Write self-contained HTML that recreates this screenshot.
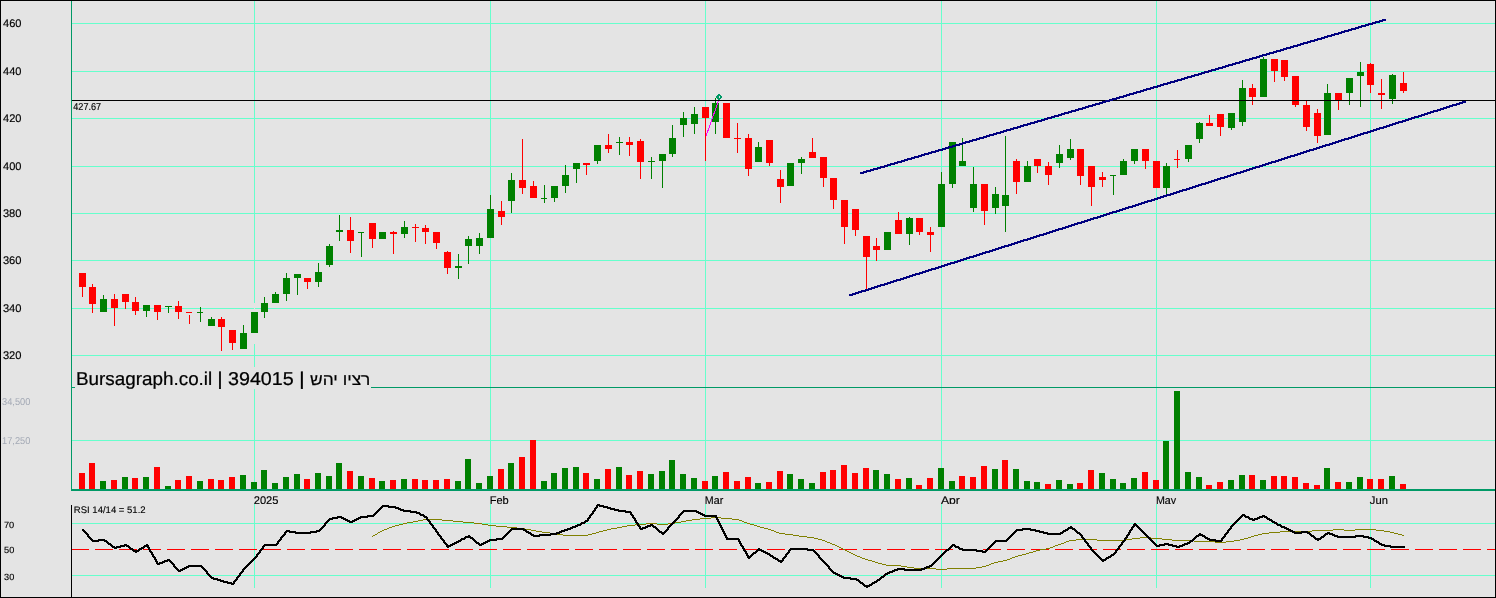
<!DOCTYPE html>
<html><head><meta charset="utf-8"><title>Bursagraph</title>
<style>
html,body{margin:0;padding:0;background:#e4e4e4;overflow:hidden}
svg{display:block;position:absolute;left:0;top:0}
text{font-family:"Liberation Sans",Arial,sans-serif;white-space:pre}
</style></head><body>
<svg width="1496" height="598" viewBox="0 0 1496 598" shape-rendering="crispEdges">
<rect x="0" y="0" width="1496" height="598" fill="#e4e4e4"/>
<path fill="#66ffcc" d="M72 23h1423v1h-1423zM72 71h1423v1h-1423zM72 118h1423v1h-1423zM72 166h1423v1h-1423zM72 213h1423v1h-1423zM72 260h1423v1h-1423zM72 308h1423v1h-1423zM72 355h1423v1h-1423zM254 1h1v488h-1zM254 504h1v84h-1zM490 1h1v488h-1zM490 504h1v84h-1zM705 1h1v488h-1zM705 504h1v84h-1zM941 1h1v488h-1zM941 504h1v84h-1zM1156 1h1v488h-1zM1156 504h1v84h-1zM1370 1h1v488h-1zM1370 504h1v84h-1zM72 440h1423v1h-1423z"/>
<path fill="#009966" d="M72 387h1423v1h-1423z"/>
<path fill="#66ffcc" d="M72 523h1423v1h-1423zM72 575h1423v1h-1423z"/>
<path fill="#ff0000" d="M72 549h17v1h-17zM95 549h18v1h-18zM119 549h18v1h-18zM143 549h18v1h-18zM167 549h18v1h-18zM191 549h18v1h-18zM215 549h18v1h-18zM239 549h18v1h-18zM263 549h18v1h-18zM287 549h18v1h-18zM311 549h18v1h-18zM335 549h18v1h-18zM359 549h18v1h-18zM383 549h18v1h-18zM407 549h18v1h-18zM431 549h18v1h-18zM455 549h18v1h-18zM479 549h18v1h-18zM503 549h18v1h-18zM527 549h18v1h-18zM551 549h18v1h-18zM575 549h18v1h-18zM599 549h18v1h-18zM623 549h18v1h-18zM647 549h18v1h-18zM671 549h18v1h-18zM695 549h18v1h-18zM719 549h18v1h-18zM743 549h18v1h-18zM767 549h18v1h-18zM791 549h18v1h-18zM815 549h18v1h-18zM839 549h18v1h-18zM863 549h18v1h-18zM887 549h18v1h-18zM911 549h18v1h-18zM935 549h18v1h-18zM959 549h18v1h-18zM983 549h18v1h-18zM1007 549h18v1h-18zM1031 549h18v1h-18zM1055 549h18v1h-18zM1079 549h18v1h-18zM1103 549h18v1h-18zM1127 549h18v1h-18zM1151 549h18v1h-18zM1175 549h18v1h-18zM1199 549h18v1h-18zM1223 549h18v1h-18zM1247 549h18v1h-18zM1271 549h18v1h-18zM1295 549h18v1h-18zM1319 549h18v1h-18zM1343 549h18v1h-18zM1367 549h18v1h-18zM1391 549h18v1h-18zM1415 549h18v1h-18zM1439 549h18v1h-18zM1463 549h18v1h-18zM1487 549h8v1h-8z"/>
<path fill="#009966" d="M71 1h1v490h-1z"/>
<path fill="#000" d="M71 505h1v92h-1z"/>
<path fill="#e4e4e4" d="M75 367h296v22h-296z"/>
<path fill="#ff0000" d="M82 287h1v10h-1zM79 273h7v14h-7zM92 284h1v3h-1zM92 304h1v9h-1zM89 287h7v17h-7z"/>
<path fill="#008000" d="M103 295h1v4h-1zM100 299h7v13h-7z"/>
<path fill="#ff0000" d="M114 294h1v5h-1zM114 308h1v18h-1zM111 299h7v9h-7zM125 302h1v7h-1zM122 294h7v8h-7zM135 297h1v5h-1zM135 311h1v4h-1zM132 302h7v9h-7z"/>
<path fill="#008000" d="M146 311h1v6h-1zM143 305h7v6h-7z"/>
<path fill="#ff0000" d="M157 312h1v8h-1zM154 305h7v7h-7z"/>
<path fill="#008000" d="M168 307h1v6h-1zM165 306h7v1h-7z"/>
<path fill="#ff0000" d="M178 301h1v5h-1zM178 312h1v7h-1zM175 306h7v6h-7zM189 315h1v9h-1zM186 312h6v1h-6z"/>
<path fill="#008000" d="M200 307h1v5h-1zM200 313h1v9h-1zM197 312h6v1h-6zM211 317h1v2h-1zM208 319h7v7h-7z"/>
<path fill="#ff0000" d="M221 317h1v2h-1zM221 327h1v24h-1zM218 319h7v8h-7zM232 343h1v7h-1zM229 330h7v13h-7z"/>
<path fill="#008000" d="M243 325h1v8h-1zM240 333h7v16h-7z"/>
<path fill="#e4e4e4" d="M254 303h1v41h-1z"/>
<path fill="#008000" d="M251 312h7v21h-7zM264 297h1v6h-1zM264 312h1v6h-1zM261 303h7v9h-7zM275 292h1v2h-1zM272 294h7v9h-7zM286 273h1v5h-1zM286 294h1v7h-1zM283 278h7v16h-7zM297 278h1v17h-1zM294 274h7v4h-7z"/>
<path fill="#ff0000" d="M307 282h1v7h-1zM304 278h7v4h-7z"/>
<path fill="#008000" d="M318 263h1v9h-1zM318 282h1v5h-1zM315 272h7v10h-7zM329 244h1v2h-1zM329 265h1v2h-1zM326 246h7v19h-7zM339 215h1v15h-1zM339 232h1v9h-1zM336 230h7v2h-7z"/>
<path fill="#ff0000" d="M350 217h1v13h-1zM350 241h1v12h-1zM347 230h7v11h-7z"/>
<path fill="#008000" d="M361 233h1v24h-1zM358 232h6v1h-6z"/>
<path fill="#ff0000" d="M372 239h1v9h-1zM369 223h7v16h-7z"/>
<path fill="#008000" d="M379 232h7v7h-7z"/>
<path fill="#ff0000" d="M393 231h1v1h-1zM393 234h1v20h-1zM390 232h7v2h-7z"/>
<path fill="#008000" d="M404 221h1v6h-1zM404 234h1v4h-1zM401 227h7v7h-7z"/>
<path fill="#ff0000" d="M415 224h1v3h-1zM415 228h1v14h-1zM412 227h7v1h-7zM425 225h1v3h-1zM425 232h1v12h-1zM422 228h7v4h-7zM436 243h1v6h-1zM433 232h7v11h-7zM447 251h1v1h-1zM447 268h1v6h-1zM444 252h7v16h-7z"/>
<path fill="#008000" d="M458 254h1v12h-1zM458 268h1v11h-1zM455 266h7v2h-7zM468 236h1v3h-1zM468 246h1v18h-1zM465 239h7v7h-7zM479 233h1v5h-1zM479 246h1v8h-1zM476 238h7v8h-7zM490 195h1v14h-1zM487 209h7v29h-7z"/>
<path fill="#ff0000" d="M501 201h1v10h-1zM501 217h1v8h-1zM498 211h7v6h-7z"/>
<path fill="#008000" d="M511 173h1v7h-1zM511 201h1v12h-1zM508 180h7v21h-7z"/>
<path fill="#ff0000" d="M522 139h1v41h-1zM522 188h1v6h-1zM519 180h7v8h-7zM533 181h1v5h-1zM530 186h7v12h-7z"/>
<path fill="#008000" d="M544 185h1v13h-1zM544 199h1v4h-1zM541 198h6v1h-6zM554 198h1v4h-1zM551 186h7v12h-7zM565 165h1v10h-1zM565 186h1v7h-1zM562 175h7v11h-7zM576 169h1v14h-1zM573 163h7v6h-7z"/>
<path fill="#ff0000" d="M586 165h1v10h-1zM583 163h7v2h-7z"/>
<path fill="#008000" d="M597 161h1v3h-1zM594 145h7v16h-7z"/>
<path fill="#ff0000" d="M608 134h1v11h-1zM608 149h1v4h-1zM605 145h7v4h-7z"/>
<path fill="#008000" d="M619 137h1v5h-1zM619 143h1v12h-1zM616 142h7v1h-7z"/>
<path fill="#ff0000" d="M629 137h1v5h-1zM629 145h1v11h-1zM626 142h7v3h-7zM640 139h1v2h-1zM640 162h1v17h-1zM637 141h7v21h-7z"/>
<path fill="#008000" d="M651 157h1v4h-1zM651 162h1v17h-1zM648 161h7v1h-7zM662 161h1v27h-1zM659 154h7v7h-7zM672 125h1v13h-1zM672 154h1v3h-1zM669 138h7v16h-7zM683 112h1v6h-1zM683 125h1v12h-1zM680 118h7v7h-7zM694 107h1v7h-1zM694 124h1v10h-1zM691 114h7v10h-7z"/>
<path fill="#ff0000" d="M705 118h1v43h-1zM702 107h7v11h-7z"/>
<path fill="#008000" d="M715 98h1v5h-1zM715 122h1v12h-1zM712 103h7v19h-7z"/>
<path fill="#ff0000" d="M723 103h7v35h-7zM737 123h1v15h-1zM737 139h1v14h-1zM734 138h7v1h-7zM748 134h1v4h-1zM748 169h1v7h-1zM745 138h7v31h-7z"/>
<path fill="#008000" d="M758 142h1v5h-1zM755 147h7v15h-7z"/>
<path fill="#ff0000" d="M769 163h1v3h-1zM766 140h7v23h-7zM780 170h1v9h-1zM780 187h1v16h-1zM777 179h7v8h-7z"/>
<path fill="#008000" d="M787 163h7v23h-7zM801 157h1v2h-1zM801 163h1v11h-1zM798 159h7v4h-7z"/>
<path fill="#ff0000" d="M812 138h1v14h-1zM809 152h7v6h-7zM823 178h1v9h-1zM820 157h7v21h-7zM833 200h1v9h-1zM830 178h7v22h-7zM844 227h1v17h-1zM841 200h7v27h-7zM855 230h1v6h-1zM852 209h7v21h-7zM866 257h1v32h-1zM863 236h7v21h-7zM876 238h1v8h-1zM876 250h1v11h-1zM873 246h7v4h-7z"/>
<path fill="#008000" d="M884 232h7v18h-7z"/>
<path fill="#ff0000" d="M898 212h1v8h-1zM895 220h7v14h-7z"/>
<path fill="#008000" d="M909 217h1v1h-1zM909 234h1v11h-1zM906 218h7v16h-7z"/>
<path fill="#ff0000" d="M919 232h1v3h-1zM916 218h7v14h-7zM930 227h1v5h-1zM930 235h1v17h-1zM927 232h7v3h-7z"/>
<path fill="#008000" d="M941 172h1v12h-1zM938 184h7v43h-7zM952 184h1v4h-1zM949 142h7v42h-7zM962 138h1v23h-1zM959 161h7v5h-7zM973 167h1v17h-1zM973 208h1v4h-1zM970 184h7v24h-7z"/>
<path fill="#ff0000" d="M984 211h1v14h-1zM981 184h7v27h-7z"/>
<path fill="#008000" d="M995 187h1v7h-1zM995 208h1v6h-1zM992 194h7v14h-7zM1005 136h1v59h-1zM1005 206h1v26h-1zM1002 195h7v11h-7z"/>
<path fill="#ff0000" d="M1016 159h1v2h-1zM1016 182h1v12h-1zM1013 161h7v21h-7z"/>
<path fill="#008000" d="M1027 161h1v5h-1zM1024 166h7v16h-7z"/>
<path fill="#ff0000" d="M1037 166h1v7h-1zM1034 159h7v7h-7zM1048 162h1v4h-1zM1048 175h1v10h-1zM1045 166h7v9h-7z"/>
<path fill="#008000" d="M1059 145h1v9h-1zM1059 163h1v5h-1zM1056 154h7v9h-7zM1070 139h1v10h-1zM1070 158h1v2h-1zM1067 149h7v9h-7z"/>
<path fill="#ff0000" d="M1080 176h1v9h-1zM1077 149h7v27h-7zM1091 187h1v19h-1zM1088 166h7v21h-7zM1102 172h1v5h-1zM1102 180h1v7h-1zM1099 177h7v3h-7z"/>
<path fill="#008000" d="M1113 176h1v19h-1zM1110 175h6v1h-6zM1123 159h1v2h-1zM1120 161h7v14h-7zM1134 161h1v3h-1zM1131 149h7v12h-7z"/>
<path fill="#ff0000" d="M1145 161h1v8h-1zM1142 149h7v12h-7zM1153 161h7v27h-7z"/>
<path fill="#008000" d="M1166 163h1v3h-1zM1166 188h1v6h-1zM1163 166h7v22h-7z"/>
<path fill="#ff0000" d="M1177 150h1v9h-1zM1177 160h1v8h-1zM1174 159h6v1h-6z"/>
<path fill="#008000" d="M1188 159h1v3h-1zM1185 145h7v14h-7zM1199 122h1v1h-1zM1199 139h1v4h-1zM1196 123h7v16h-7z"/>
<path fill="#ff0000" d="M1209 115h1v8h-1zM1206 123h7v3h-7zM1220 127h1v9h-1zM1217 114h7v13h-7z"/>
<path fill="#008000" d="M1231 128h1v2h-1zM1228 113h7v15h-7zM1242 80h1v8h-1zM1242 122h1v4h-1zM1239 88h7v34h-7z"/>
<path fill="#ff0000" d="M1252 84h1v4h-1zM1252 97h1v8h-1zM1249 88h7v9h-7z"/>
<path fill="#008000" d="M1263 57h1v2h-1zM1260 59h7v38h-7z"/>
<path fill="#ff0000" d="M1274 71h1v11h-1zM1271 59h7v12h-7zM1284 77h1v4h-1zM1281 60h7v17h-7zM1295 105h1v2h-1zM1292 76h7v29h-7zM1306 101h1v4h-1zM1306 127h1v4h-1zM1303 105h7v22h-7zM1317 109h1v4h-1zM1317 136h1v7h-1zM1314 113h7v23h-7z"/>
<path fill="#008000" d="M1327 84h1v9h-1zM1324 93h7v42h-7z"/>
<path fill="#ff0000" d="M1338 100h1v10h-1zM1335 93h7v7h-7z"/>
<path fill="#008000" d="M1349 93h1v12h-1zM1346 78h7v15h-7zM1360 62h1v10h-1zM1360 76h1v31h-1zM1357 72h7v4h-7z"/>
<path fill="#ff0000" d="M1370 63h1v1h-1zM1370 85h1v8h-1zM1367 64h7v21h-7zM1381 79h1v14h-1zM1381 95h1v14h-1zM1378 93h7v2h-7z"/>
<path fill="#008000" d="M1392 74h1v1h-1zM1392 99h1v5h-1zM1389 75h7v24h-7z"/>
<path fill="#ff0000" d="M1403 72h1v11h-1zM1403 91h1v2h-1zM1400 83h7v8h-7zM79 473h6v16h-6zM89 463h6v26h-6z"/>
<path fill="#008000" d="M100 481h6v8h-6z"/>
<path fill="#ff0000" d="M111 480h6v9h-6z"/>
<path fill="#008000" d="M122 477h6v12h-6z"/>
<path fill="#ff0000" d="M132 478h6v11h-6z"/>
<path fill="#008000" d="M143 477h6v12h-6z"/>
<path fill="#ff0000" d="M154 467h6v22h-6z"/>
<path fill="#008000" d="M165 486h6v3h-6z"/>
<path fill="#ff0000" d="M175 480h6v9h-6zM186 476h6v13h-6z"/>
<path fill="#008000" d="M197 481h6v8h-6z"/>
<path fill="#ff0000" d="M208 479h6v10h-6zM218 480h6v9h-6zM229 477h6v12h-6z"/>
<path fill="#008000" d="M240 475h6v14h-6zM251 482h6v7h-6zM261 470h6v19h-6zM272 483h6v6h-6zM283 477h6v12h-6zM294 474h6v15h-6z"/>
<path fill="#ff0000" d="M304 479h6v10h-6z"/>
<path fill="#008000" d="M315 473h6v16h-6zM326 476h6v13h-6zM336 463h6v26h-6z"/>
<path fill="#ff0000" d="M347 471h6v18h-6z"/>
<path fill="#008000" d="M358 476h6v13h-6z"/>
<path fill="#ff0000" d="M369 478h6v11h-6z"/>
<path fill="#008000" d="M379 481h6v8h-6z"/>
<path fill="#ff0000" d="M390 480h6v9h-6z"/>
<path fill="#008000" d="M401 479h6v10h-6z"/>
<path fill="#ff0000" d="M412 479h6v10h-6zM422 480h6v9h-6zM433 480h6v9h-6zM444 479h6v10h-6z"/>
<path fill="#008000" d="M455 481h6v8h-6zM465 459h6v30h-6zM476 483h6v6h-6zM487 476h6v13h-6z"/>
<path fill="#ff0000" d="M498 469h6v20h-6z"/>
<path fill="#008000" d="M508 463h6v26h-6z"/>
<path fill="#ff0000" d="M519 457h6v32h-6zM530 440h6v49h-6z"/>
<path fill="#008000" d="M541 481h6v8h-6zM551 473h6v16h-6zM562 468h6v21h-6zM573 467h6v22h-6z"/>
<path fill="#ff0000" d="M583 473h6v16h-6z"/>
<path fill="#008000" d="M594 479h6v10h-6z"/>
<path fill="#ff0000" d="M605 469h6v20h-6z"/>
<path fill="#008000" d="M616 467h6v22h-6z"/>
<path fill="#ff0000" d="M626 475h6v14h-6zM637 471h6v18h-6z"/>
<path fill="#008000" d="M648 474h6v15h-6zM659 471h6v18h-6zM669 460h6v29h-6zM680 474h6v15h-6zM691 478h6v11h-6z"/>
<path fill="#ff0000" d="M702 481h6v8h-6z"/>
<path fill="#008000" d="M712 476h6v13h-6z"/>
<path fill="#ff0000" d="M723 472h6v17h-6zM734 481h6v8h-6zM745 477h6v12h-6z"/>
<path fill="#008000" d="M755 483h6v6h-6z"/>
<path fill="#ff0000" d="M766 482h6v7h-6zM777 471h6v18h-6z"/>
<path fill="#008000" d="M787 474h6v15h-6zM798 479h6v10h-6zM809 483h6v6h-6z"/>
<path fill="#ff0000" d="M820 472h6v17h-6zM830 470h6v19h-6zM841 465h6v24h-6zM852 473h6v16h-6zM863 468h6v21h-6z"/>
<path fill="#008000" d="M873 470h6v19h-6zM884 474h6v15h-6z"/>
<path fill="#ff0000" d="M895 479h6v10h-6z"/>
<path fill="#008000" d="M906 478h6v11h-6z"/>
<path fill="#ff0000" d="M916 485h6v4h-6zM927 478h6v11h-6z"/>
<path fill="#008000" d="M938 468h6v21h-6zM949 481h6v8h-6z"/>
<path fill="#ff0000" d="M959 476h6v13h-6zM970 477h6v12h-6zM981 466h6v23h-6z"/>
<path fill="#008000" d="M992 469h6v20h-6z"/>
<path fill="#ff0000" d="M1002 460h6v29h-6z"/>
<path fill="#008000" d="M1013 469h6v20h-6zM1024 481h6v8h-6zM1034 482h6v7h-6z"/>
<path fill="#ff0000" d="M1045 484h6v5h-6z"/>
<path fill="#008000" d="M1056 480h6v9h-6zM1067 484h6v5h-6z"/>
<path fill="#ff0000" d="M1077 483h6v6h-6zM1088 470h6v19h-6z"/>
<path fill="#008000" d="M1099 473h6v16h-6zM1110 479h6v10h-6zM1120 483h6v6h-6zM1131 478h6v11h-6z"/>
<path fill="#ff0000" d="M1142 472h6v17h-6zM1153 480h6v9h-6z"/>
<path fill="#008000" d="M1163 441h6v48h-6zM1174 391h6v98h-6zM1185 472h6v17h-6zM1196 477h6v12h-6z"/>
<path fill="#ff0000" d="M1206 485h6v4h-6zM1217 482h6v7h-6z"/>
<path fill="#008000" d="M1228 480h6v9h-6zM1239 475h6v14h-6z"/>
<path fill="#ff0000" d="M1249 475h6v14h-6z"/>
<path fill="#008000" d="M1260 480h6v9h-6z"/>
<path fill="#ff0000" d="M1271 476h6v13h-6zM1281 476h6v13h-6zM1292 477h6v12h-6zM1303 483h6v6h-6zM1314 485h6v4h-6z"/>
<path fill="#008000" d="M1324 468h6v21h-6z"/>
<path fill="#ff0000" d="M1335 482h6v7h-6z"/>
<path fill="#008000" d="M1346 482h6v7h-6zM1357 477h6v12h-6z"/>
<path fill="#ff0000" d="M1367 479h6v10h-6zM1378 479h6v10h-6z"/>
<path fill="#008000" d="M1389 476h6v13h-6z"/>
<path fill="#ff0000" d="M1400 484h6v5h-6z"/>
<path fill="#009966" d="M71 489h1424v2h-1424z"/>
<line x1="705.9" y1="136.5" x2="718.55" y2="100.5" stroke="#ff00ff" stroke-width="1"/>
<path fill="#000" d="M72 100h1423v1h-1423z"/>
<path fill="#000080" d="M860 172h3v2h-3zM863 171h1v3h-1zM864 171h2v2h-2zM866 170h1v3h-1zM867 170h3v2h-3zM870 169h1v3h-1zM871 169h2v2h-2zM873 168h1v3h-1zM874 168h3v2h-3zM877 167h1v3h-1zM878 167h2v2h-2zM880 166h1v3h-1zM881 166h3v2h-3zM884 165h1v3h-1zM885 165h2v2h-2zM887 164h1v3h-1zM888 164h2v2h-2zM890 163h1v3h-1zM891 163h3v2h-3zM894 162h1v3h-1zM895 162h2v2h-2zM897 161h1v3h-1zM898 161h3v2h-3zM901 160h1v3h-1zM902 160h2v2h-2zM904 159h1v3h-1zM905 159h2v2h-2zM907 158h1v3h-1zM908 158h3v2h-3zM911 157h1v3h-1zM912 157h2v2h-2zM914 156h1v3h-1zM915 156h3v2h-3zM918 155h1v3h-1zM919 155h2v2h-2zM921 154h1v3h-1zM922 154h2v2h-2zM924 153h1v3h-1zM925 153h3v2h-3zM928 152h1v3h-1zM929 152h2v2h-2zM931 151h1v3h-1zM932 151h3v2h-3zM935 150h1v3h-1zM936 150h2v2h-2zM938 149h1v3h-1zM939 149h3v2h-3zM942 148h1v3h-1zM943 148h2v2h-2zM945 147h1v3h-1zM946 147h2v2h-2zM948 146h1v3h-1zM949 146h3v2h-3zM952 145h1v3h-1zM953 145h2v2h-2zM955 144h1v3h-1zM956 144h3v2h-3zM959 143h1v3h-1zM960 143h2v2h-2zM962 142h1v3h-1zM963 142h2v2h-2zM965 141h1v3h-1zM966 141h3v2h-3zM969 140h1v3h-1zM970 140h2v2h-2zM972 139h1v3h-1zM973 139h3v2h-3zM976 138h1v3h-1zM977 138h2v2h-2zM979 137h1v3h-1zM980 137h3v2h-3zM983 136h1v3h-1zM984 136h2v2h-2zM986 135h1v3h-1zM987 135h2v2h-2zM989 134h1v3h-1zM990 134h3v2h-3zM993 133h1v3h-1zM994 133h2v2h-2zM996 132h1v3h-1zM997 132h3v2h-3zM1000 131h1v3h-1zM1001 131h2v2h-2zM1003 130h1v3h-1zM1004 130h2v2h-2zM1006 129h1v3h-1zM1007 129h3v2h-3zM1010 128h1v3h-1zM1011 128h2v2h-2zM1013 127h1v3h-1zM1014 127h3v2h-3zM1017 126h1v3h-1zM1018 126h2v2h-2zM1020 125h1v3h-1zM1021 125h2v2h-2zM1023 124h1v3h-1zM1024 124h3v2h-3zM1027 123h1v3h-1zM1028 123h2v2h-2zM1030 122h1v3h-1zM1031 122h3v2h-3zM1034 121h1v3h-1zM1035 121h2v2h-2zM1037 120h1v3h-1zM1038 120h3v2h-3zM1041 119h1v3h-1zM1042 119h2v2h-2zM1044 118h1v3h-1zM1045 118h2v2h-2zM1047 117h1v3h-1zM1048 117h3v2h-3zM1051 116h1v3h-1zM1052 116h2v2h-2zM1054 115h1v3h-1zM1055 115h3v2h-3zM1058 114h1v3h-1zM1059 114h2v2h-2zM1061 113h1v3h-1zM1062 113h2v2h-2zM1064 112h1v3h-1zM1065 112h3v2h-3zM1068 111h1v3h-1zM1069 111h2v2h-2zM1071 110h1v3h-1zM1072 110h3v2h-3zM1075 109h1v3h-1zM1076 109h2v2h-2zM1078 108h1v3h-1zM1079 108h3v2h-3zM1082 107h1v3h-1zM1083 107h2v2h-2zM1085 106h1v3h-1zM1086 106h2v2h-2zM1088 105h1v3h-1zM1089 105h3v2h-3zM1092 104h1v3h-1zM1093 104h2v2h-2zM1095 103h1v3h-1zM1096 103h3v2h-3zM1099 102h1v3h-1zM1100 102h2v2h-2zM1102 101h1v3h-1zM1103 101h2v2h-2zM1105 100h1v3h-1zM1106 100h3v2h-3zM1109 99h1v3h-1zM1110 99h2v2h-2zM1112 98h1v3h-1zM1113 98h3v2h-3zM1116 97h1v3h-1zM1117 97h2v2h-2zM1119 96h1v3h-1zM1120 96h3v2h-3zM1123 95h1v3h-1zM1124 95h2v2h-2zM1126 94h1v3h-1zM1127 94h2v2h-2zM1129 93h1v3h-1zM1130 93h3v2h-3zM1133 92h1v3h-1zM1134 92h2v2h-2zM1136 91h1v3h-1zM1137 91h3v2h-3zM1140 90h1v3h-1zM1141 90h2v2h-2zM1143 89h1v3h-1zM1144 89h2v2h-2zM1146 88h1v3h-1zM1147 88h3v2h-3zM1150 87h1v3h-1zM1151 87h2v2h-2zM1153 86h1v3h-1zM1154 86h3v2h-3zM1157 85h1v3h-1zM1158 85h2v2h-2zM1160 84h1v3h-1zM1161 84h2v2h-2zM1163 83h1v3h-1zM1164 83h3v2h-3zM1167 82h1v3h-1zM1168 82h2v2h-2zM1170 81h1v3h-1zM1171 81h3v2h-3zM1174 80h1v3h-1zM1175 80h2v2h-2zM1177 79h1v3h-1zM1178 79h3v2h-3zM1181 78h1v3h-1zM1182 78h2v2h-2zM1184 77h1v3h-1zM1185 77h2v2h-2zM1187 76h1v3h-1zM1188 76h3v2h-3zM1191 75h1v3h-1zM1192 75h2v2h-2zM1194 74h1v3h-1zM1195 74h3v2h-3zM1198 73h1v3h-1zM1199 73h2v2h-2zM1201 72h1v3h-1zM1202 72h2v2h-2zM1204 71h1v3h-1zM1205 71h3v2h-3zM1208 70h1v3h-1zM1209 70h2v2h-2zM1211 69h1v3h-1zM1212 69h3v2h-3zM1215 68h1v3h-1zM1216 68h2v2h-2zM1218 67h1v3h-1zM1219 67h3v2h-3zM1222 66h1v3h-1zM1223 66h2v2h-2zM1225 65h1v3h-1zM1226 65h2v2h-2zM1228 64h1v3h-1zM1229 64h3v2h-3zM1232 63h1v3h-1zM1233 63h2v2h-2zM1235 62h1v3h-1zM1236 62h3v2h-3zM1239 61h1v3h-1zM1240 61h2v2h-2zM1242 60h1v3h-1zM1243 60h2v2h-2zM1245 59h1v3h-1zM1246 59h3v2h-3zM1249 58h1v3h-1zM1250 58h2v2h-2zM1252 57h1v3h-1zM1253 57h3v2h-3zM1256 56h1v3h-1zM1257 56h2v2h-2zM1259 55h1v3h-1zM1260 55h2v2h-2zM1262 54h1v3h-1zM1263 54h3v2h-3zM1266 53h1v3h-1zM1267 53h2v2h-2zM1269 52h1v3h-1zM1270 52h3v2h-3zM1273 51h1v3h-1zM1274 51h2v2h-2zM1276 50h1v3h-1zM1277 50h3v2h-3zM1280 49h1v3h-1zM1281 49h2v2h-2zM1283 48h1v3h-1zM1284 48h2v2h-2zM1286 47h1v3h-1zM1287 47h3v2h-3zM1290 46h1v3h-1zM1291 46h2v2h-2zM1293 45h1v3h-1zM1294 45h3v2h-3zM1297 44h1v3h-1zM1298 44h2v2h-2zM1300 43h1v3h-1zM1301 43h2v2h-2zM1303 42h1v3h-1zM1304 42h3v2h-3zM1307 41h1v3h-1zM1308 41h2v2h-2zM1310 40h1v3h-1zM1311 40h3v2h-3zM1314 39h1v3h-1zM1315 39h2v2h-2zM1317 38h1v3h-1zM1318 38h3v2h-3zM1321 37h1v3h-1zM1322 37h2v2h-2zM1324 36h1v3h-1zM1325 36h2v2h-2zM1327 35h1v3h-1zM1328 35h3v2h-3zM1331 34h1v3h-1zM1332 34h2v2h-2zM1334 33h1v3h-1zM1335 33h3v2h-3zM1338 32h1v3h-1zM1339 32h2v2h-2zM1341 31h1v3h-1zM1342 31h2v2h-2zM1344 30h1v3h-1zM1345 30h3v2h-3zM1348 29h1v3h-1zM1349 29h2v2h-2zM1351 28h1v3h-1zM1352 28h3v2h-3zM1355 27h1v3h-1zM1356 27h2v2h-2zM1358 26h1v3h-1zM1359 26h2v2h-2zM1361 25h1v3h-1zM1362 25h3v2h-3zM1365 24h1v3h-1zM1366 24h2v2h-2zM1368 23h1v3h-1zM1369 23h3v2h-3zM1372 22h1v3h-1zM1373 22h2v2h-2zM1375 21h1v3h-1zM1376 21h3v2h-3zM1379 20h1v3h-1zM1380 20h2v2h-2zM1382 19h1v3h-1zM1383 19h3v2h-3zM849 294h3v2h-3zM852 293h1v3h-1zM853 293h2v2h-2zM855 292h1v3h-1zM856 292h2v2h-2zM858 291h1v3h-1zM859 291h2v2h-2zM861 290h1v3h-1zM862 290h3v2h-3zM865 289h1v3h-1zM866 289h2v2h-2zM868 288h1v3h-1zM869 288h2v2h-2zM871 287h1v3h-1zM872 287h2v2h-2zM874 286h1v3h-1zM875 286h2v2h-2zM877 285h1v3h-1zM878 285h2v2h-2zM880 284h1v3h-1zM881 284h3v2h-3zM884 283h1v3h-1zM885 283h2v2h-2zM887 282h1v3h-1zM888 282h2v2h-2zM890 281h1v3h-1zM891 281h2v2h-2zM893 280h1v3h-1zM894 280h2v2h-2zM896 279h1v3h-1zM897 279h3v2h-3zM900 278h1v3h-1zM901 278h2v2h-2zM903 277h1v3h-1zM904 277h2v2h-2zM906 276h1v3h-1zM907 276h2v2h-2zM909 275h1v3h-1zM910 275h2v2h-2zM912 274h1v3h-1zM913 274h2v2h-2zM915 273h1v3h-1zM916 273h3v2h-3zM919 272h1v3h-1zM920 272h2v2h-2zM922 271h1v3h-1zM923 271h2v2h-2zM925 270h1v3h-1zM926 270h2v2h-2zM928 269h1v3h-1zM929 269h2v2h-2zM931 268h1v3h-1zM932 268h3v2h-3zM935 267h1v3h-1zM936 267h2v2h-2zM938 266h1v3h-1zM939 266h2v2h-2zM941 265h1v3h-1zM942 265h2v2h-2zM944 264h1v3h-1zM945 264h2v2h-2zM947 263h1v3h-1zM948 263h2v2h-2zM950 262h1v3h-1zM951 262h3v2h-3zM954 261h1v3h-1zM955 261h2v2h-2zM957 260h1v3h-1zM958 260h2v2h-2zM960 259h1v3h-1zM961 259h2v2h-2zM963 258h1v3h-1zM964 258h2v2h-2zM966 257h1v3h-1zM967 257h2v2h-2zM969 256h1v3h-1zM970 256h3v2h-3zM973 255h1v3h-1zM974 255h2v2h-2zM976 254h1v3h-1zM977 254h2v2h-2zM979 253h1v3h-1zM980 253h2v2h-2zM982 252h1v3h-1zM983 252h2v2h-2zM985 251h1v3h-1zM986 251h3v2h-3zM989 250h1v3h-1zM990 250h2v2h-2zM992 249h1v3h-1zM993 249h2v2h-2zM995 248h1v3h-1zM996 248h2v2h-2zM998 247h1v3h-1zM999 247h2v2h-2zM1001 246h1v3h-1zM1002 246h2v2h-2zM1004 245h1v3h-1zM1005 245h3v2h-3zM1008 244h1v3h-1zM1009 244h2v2h-2zM1011 243h1v3h-1zM1012 243h2v2h-2zM1014 242h1v3h-1zM1015 242h2v2h-2zM1017 241h1v3h-1zM1018 241h2v2h-2zM1020 240h1v3h-1zM1021 240h2v2h-2zM1023 239h1v3h-1zM1024 239h3v2h-3zM1027 238h1v3h-1zM1028 238h2v2h-2zM1030 237h1v3h-1zM1031 237h2v2h-2zM1033 236h1v3h-1zM1034 236h2v2h-2zM1036 235h1v3h-1zM1037 235h2v2h-2zM1039 234h1v3h-1zM1040 234h3v2h-3zM1043 233h1v3h-1zM1044 233h2v2h-2zM1046 232h1v3h-1zM1047 232h2v2h-2zM1049 231h1v3h-1zM1050 231h2v2h-2zM1052 230h1v3h-1zM1053 230h2v2h-2zM1055 229h1v3h-1zM1056 229h2v2h-2zM1058 228h1v3h-1zM1059 228h3v2h-3zM1062 227h1v3h-1zM1063 227h2v2h-2zM1065 226h1v3h-1zM1066 226h2v2h-2zM1068 225h1v3h-1zM1069 225h2v2h-2zM1071 224h1v3h-1zM1072 224h2v2h-2zM1074 223h1v3h-1zM1075 223h2v2h-2zM1077 222h1v3h-1zM1078 222h3v2h-3zM1081 221h1v3h-1zM1082 221h2v2h-2zM1084 220h1v3h-1zM1085 220h2v2h-2zM1087 219h1v3h-1zM1088 219h2v2h-2zM1090 218h1v3h-1zM1091 218h2v2h-2zM1093 217h1v3h-1zM1094 217h3v2h-3zM1097 216h1v3h-1zM1098 216h2v2h-2zM1100 215h1v3h-1zM1101 215h2v2h-2zM1103 214h1v3h-1zM1104 214h2v2h-2zM1106 213h1v3h-1zM1107 213h2v2h-2zM1109 212h1v3h-1zM1110 212h2v2h-2zM1112 211h1v3h-1zM1113 211h3v2h-3zM1116 210h1v3h-1zM1117 210h2v2h-2zM1119 209h1v3h-1zM1120 209h2v2h-2zM1122 208h1v3h-1zM1123 208h2v2h-2zM1125 207h1v3h-1zM1126 207h2v2h-2zM1128 206h1v3h-1zM1129 206h3v2h-3zM1132 205h1v3h-1zM1133 205h2v2h-2zM1135 204h1v3h-1zM1136 204h2v2h-2zM1138 203h1v3h-1zM1139 203h2v2h-2zM1141 202h1v3h-1zM1142 202h2v2h-2zM1144 201h1v3h-1zM1145 201h2v2h-2zM1147 200h1v3h-1zM1148 200h3v2h-3zM1151 199h1v3h-1zM1152 199h2v2h-2zM1154 198h1v3h-1zM1155 198h2v2h-2zM1157 197h1v3h-1zM1158 197h2v2h-2zM1160 196h1v3h-1zM1161 196h2v2h-2zM1163 195h1v3h-1zM1164 195h2v2h-2zM1166 194h1v3h-1zM1167 194h3v2h-3zM1170 193h1v3h-1zM1171 193h2v2h-2zM1173 192h1v3h-1zM1174 192h2v2h-2zM1176 191h1v3h-1zM1177 191h2v2h-2zM1179 190h1v3h-1zM1180 190h2v2h-2zM1182 189h1v3h-1zM1183 189h3v2h-3zM1186 188h1v3h-1zM1187 188h2v2h-2zM1189 187h1v3h-1zM1190 187h2v2h-2zM1192 186h1v3h-1zM1193 186h2v2h-2zM1195 185h1v3h-1zM1196 185h2v2h-2zM1198 184h1v3h-1zM1199 184h2v2h-2zM1201 183h1v3h-1zM1202 183h3v2h-3zM1205 182h1v3h-1zM1206 182h2v2h-2zM1208 181h1v3h-1zM1209 181h2v2h-2zM1211 180h1v3h-1zM1212 180h2v2h-2zM1214 179h1v3h-1zM1215 179h2v2h-2zM1217 178h1v3h-1zM1218 178h2v2h-2zM1220 177h1v3h-1zM1221 177h3v2h-3zM1224 176h1v3h-1zM1225 176h2v2h-2zM1227 175h1v3h-1zM1228 175h2v2h-2zM1230 174h1v3h-1zM1231 174h2v2h-2zM1233 173h1v3h-1zM1234 173h2v2h-2zM1236 172h1v3h-1zM1237 172h3v2h-3zM1240 171h1v3h-1zM1241 171h2v2h-2zM1243 170h1v3h-1zM1244 170h2v2h-2zM1246 169h1v3h-1zM1247 169h2v2h-2zM1249 168h1v3h-1zM1250 168h2v2h-2zM1252 167h1v3h-1zM1253 167h2v2h-2zM1255 166h1v3h-1zM1256 166h3v2h-3zM1259 165h1v3h-1zM1260 165h2v2h-2zM1262 164h1v3h-1zM1263 164h2v2h-2zM1265 163h1v3h-1zM1266 163h2v2h-2zM1268 162h1v3h-1zM1269 162h2v2h-2zM1271 161h1v3h-1zM1272 161h3v2h-3zM1275 160h1v3h-1zM1276 160h2v2h-2zM1278 159h1v3h-1zM1279 159h2v2h-2zM1281 158h1v3h-1zM1282 158h2v2h-2zM1284 157h1v3h-1zM1285 157h2v2h-2zM1287 156h1v3h-1zM1288 156h2v2h-2zM1290 155h1v3h-1zM1291 155h3v2h-3zM1294 154h1v3h-1zM1295 154h2v2h-2zM1297 153h1v3h-1zM1298 153h2v2h-2zM1300 152h1v3h-1zM1301 152h2v2h-2zM1303 151h1v3h-1zM1304 151h2v2h-2zM1306 150h1v3h-1zM1307 150h2v2h-2zM1309 149h1v3h-1zM1310 149h3v2h-3zM1313 148h1v3h-1zM1314 148h2v2h-2zM1316 147h1v3h-1zM1317 147h2v2h-2zM1319 146h1v3h-1zM1320 146h2v2h-2zM1322 145h1v3h-1zM1323 145h2v2h-2zM1325 144h1v3h-1zM1326 144h3v2h-3zM1329 143h1v3h-1zM1330 143h2v2h-2zM1332 142h1v3h-1zM1333 142h2v2h-2zM1335 141h1v3h-1zM1336 141h2v2h-2zM1338 140h1v3h-1zM1339 140h2v2h-2zM1341 139h1v3h-1zM1342 139h2v2h-2zM1344 138h1v3h-1zM1345 138h3v2h-3zM1348 137h1v3h-1zM1349 137h2v2h-2zM1351 136h1v3h-1zM1352 136h2v2h-2zM1354 135h1v3h-1zM1355 135h2v2h-2zM1357 134h1v3h-1zM1358 134h2v2h-2zM1360 133h1v3h-1zM1361 133h2v2h-2zM1363 132h1v3h-1zM1364 132h3v2h-3zM1367 131h1v3h-1zM1368 131h2v2h-2zM1370 130h1v3h-1zM1371 130h2v2h-2zM1373 129h1v3h-1zM1374 129h2v2h-2zM1376 128h1v3h-1zM1377 128h2v2h-2zM1379 127h1v3h-1zM1380 127h3v2h-3zM1383 126h1v3h-1zM1384 126h2v2h-2zM1386 125h1v3h-1zM1387 125h2v2h-2zM1389 124h1v3h-1zM1390 124h2v2h-2zM1392 123h1v3h-1zM1393 123h2v2h-2zM1395 122h1v3h-1zM1396 122h2v2h-2zM1398 121h1v3h-1zM1399 121h3v2h-3zM1402 120h1v3h-1zM1403 120h2v2h-2zM1405 119h1v3h-1zM1406 119h2v2h-2zM1408 118h1v3h-1zM1409 118h2v2h-2zM1411 117h1v3h-1zM1412 117h2v2h-2zM1414 116h1v3h-1zM1415 116h3v2h-3zM1418 115h1v3h-1zM1419 115h2v2h-2zM1421 114h1v3h-1zM1422 114h2v2h-2zM1424 113h1v3h-1zM1425 113h2v2h-2zM1427 112h1v3h-1zM1428 112h2v2h-2zM1430 111h1v3h-1zM1431 111h2v2h-2zM1433 110h1v3h-1zM1434 110h3v2h-3zM1437 109h1v3h-1zM1438 109h2v2h-2zM1440 108h1v3h-1zM1441 108h2v2h-2zM1443 107h1v3h-1zM1444 107h2v2h-2zM1446 106h1v3h-1zM1447 106h2v2h-2zM1449 105h1v3h-1zM1450 105h2v2h-2zM1452 104h1v3h-1zM1453 104h3v2h-3zM1456 103h1v3h-1zM1457 103h2v2h-2zM1459 102h1v3h-1zM1460 102h2v2h-2zM1462 101h1v3h-1zM1463 101h3v2h-3z"/>
<path fill="#009966" d="M718 94h2v1h-2zM717 95h4v1h-4zM716 96h3v1h-3zM720 96h2v1h-2zM716 97h3v1h-3zM720 97h2v1h-2zM717 98h4v1h-4zM718 99h2v1h-2z"/>
<path fill="#808000" d="M372 536h1v1h-1zM373 535h2v1h-2zM375 534h2v1h-2zM377 533h1v1h-1zM378 532h2v1h-2zM380 531h2v1h-2zM382 530h2v1h-2zM384 529h3v1h-3zM387 528h2v1h-2zM389 527h3v1h-3zM392 526h3v1h-3zM395 525h4v1h-4zM399 524h4v1h-4zM403 523h4v1h-4zM407 522h6v1h-6zM413 521h5v1h-5zM418 520h5v1h-5zM423 519h19v1h-19zM442 520h11v1h-11zM453 521h10v1h-10zM463 522h11v1h-11zM474 523h8v1h-8zM482 524h6v1h-6zM488 525h8v1h-8zM496 526h11v1h-11zM507 527h10v1h-10zM517 528h8v1h-8zM525 529h6v1h-6zM531 530h5v1h-5zM536 531h6v1h-6zM542 532h8v1h-8zM550 533h7v1h-7zM557 534h6v1h-6zM563 535h25v1h-25zM588 534h4v1h-4zM592 533h4v1h-4zM596 532h3v1h-3zM599 531h4v1h-4zM603 530h4v1h-4zM607 529h4v1h-4zM611 528h6v1h-6zM617 527h5v1h-5zM622 526h5v1h-5zM627 525h8v1h-8zM635 524h11v1h-11zM646 523h11v1h-11zM657 524h11v1h-11zM668 523h7v1h-7zM675 522h6v1h-6zM681 521h5v1h-5zM686 520h6v1h-6zM692 519h8v1h-8zM700 518h11v1h-11zM711 517h10v1h-10zM721 518h11v1h-11zM732 519h7v1h-7zM739 520h3v1h-3zM742 521h2v1h-2zM744 522h3v1h-3zM747 523h3v1h-3zM750 524h4v1h-4zM754 525h3v1h-3zM757 526h3v1h-3zM760 527h4v1h-4zM764 528h4v1h-4zM768 529h3v1h-3zM771 530h3v1h-3zM774 531h2v1h-2zM776 532h3v1h-3zM779 533h6v1h-6zM785 534h8v1h-8zM793 535h6v1h-6zM799 536h8v1h-8zM807 537h7v1h-7zM814 538h4v1h-4zM818 539h4v1h-4zM822 540h3v1h-3zM825 541h2v1h-2zM827 542h3v1h-3zM830 543h2v1h-2zM832 544h3v1h-3zM835 545h2v1h-2zM837 546h2v1h-2zM839 547h2v1h-2zM841 548h2v1h-2zM843 549h2v1h-2zM845 550h2v1h-2zM847 551h2v1h-2zM849 552h2v1h-2zM851 553h2v1h-2zM853 554h2v1h-2zM855 555h2v1h-2zM857 556h3v1h-3zM860 557h2v1h-2zM862 558h3v1h-3zM865 559h3v1h-3zM868 560h4v1h-4zM872 561h3v1h-3zM875 562h3v1h-3zM878 563h4v1h-4zM882 564h4v1h-4zM886 565h15v1h-15zM901 566h6v1h-6zM907 567h7v1h-7zM914 568h22v1h-22zM936 569h11v1h-11zM947 568h29v1h-29zM976 567h6v1h-6zM982 566h4v1h-4zM986 565h3v1h-3zM989 564h2v1h-2zM991 563h3v1h-3zM994 562h4v1h-4zM998 561h5v1h-5zM1003 560h4v1h-4zM1007 559h3v1h-3zM1010 558h2v1h-2zM1012 557h3v1h-3zM1015 556h3v1h-3zM1018 555h4v1h-4zM1022 554h4v1h-4zM1026 553h3v1h-3zM1029 552h4v1h-4zM1033 551h3v1h-3zM1036 550h4v1h-4zM1040 549h6v1h-6zM1046 548h4v1h-4zM1050 547h3v1h-3zM1053 546h2v1h-2zM1055 545h3v1h-3zM1058 544h3v1h-3zM1061 543h3v1h-3zM1064 542h2v1h-2zM1066 541h3v1h-3zM1069 540h7v1h-7zM1076 539h21v1h-21zM1097 540h29v1h-29zM1126 539h6v1h-6zM1132 538h8v1h-8zM1140 537h11v1h-11zM1151 538h11v1h-11zM1162 539h10v1h-10zM1172 540h22v1h-22zM1194 541h21v1h-21zM1215 542h11v1h-11zM1226 541h8v1h-8zM1234 540h6v1h-6zM1240 539h4v1h-4zM1244 538h4v1h-4zM1248 537h3v1h-3zM1251 536h3v1h-3zM1254 535h4v1h-4zM1258 534h4v1h-4zM1262 533h7v1h-7zM1269 532h11v1h-11zM1280 531h32v1h-32zM1312 530h21v1h-21zM1333 529h11v1h-11zM1344 530h11v1h-11zM1355 529h21v1h-21zM1376 530h8v1h-8zM1384 531h6v1h-6zM1390 532h4v1h-4zM1394 533h4v1h-4zM1398 534h4v1h-4zM1402 535h2v1h-2z"/>
<path fill="#000" d="M82 529h1v2h-1zM83 529h1v3h-1zM84 530h1v3h-1zM85 531h1v3h-1zM86 532h1v3h-1zM87 533h1v4h-1zM88 534h1v4h-1zM89 536h1v3h-1zM90 537h1v3h-1zM91 538h1v3h-1zM92 539h1v3h-1zM93 540h5v2h-5zM98 539h1v3h-1zM99 539h5v2h-5zM104 539h1v3h-1zM105 540h1v2h-1zM106 540h1v3h-1zM107 541h1v3h-1zM108 542h1v3h-1zM109 543h1v2h-1zM110 543h1v3h-1zM111 544h1v3h-1zM112 545h1v3h-1zM113 546h1v2h-1zM114 546h1v3h-1zM115 547h1v2h-1zM116 546h1v3h-1zM117 546h3v2h-3zM120 545h1v3h-1zM121 545h3v2h-3zM124 544h1v3h-1zM125 544h1v2h-1zM126 544h1v3h-1zM127 545h1v2h-1zM128 545h1v3h-1zM129 546h1v3h-1zM130 547h1v3h-1zM131 548h1v2h-1zM132 548h1v3h-1zM133 549h1v3h-1zM134 550h1v2h-1zM135 550h2v3h-2zM137 550h1v2h-1zM138 549h1v3h-1zM139 548h1v3h-1zM140 548h1v2h-1zM141 547h1v3h-1zM142 547h1v2h-1zM143 546h1v3h-1zM144 545h1v3h-1zM145 545h1v2h-1zM146 544h1v3h-1zM147 544h1v4h-1zM148 545h1v5h-1zM149 547h1v5h-1zM150 549h1v4h-1zM151 551h1v4h-1zM152 552h1v5h-1zM153 554h1v4h-1zM154 556h1v4h-1zM155 557h1v5h-1zM156 559h1v5h-1zM157 561h1v4h-1zM158 563h1v2h-1zM159 562h1v3h-1zM160 562h2v2h-2zM162 561h1v3h-1zM163 561h1v2h-1zM164 560h1v3h-1zM165 560h2v2h-2zM167 559h1v3h-1zM168 559h1v2h-1zM169 559h1v3h-1zM170 560h1v3h-1zM171 561h1v3h-1zM172 562h1v3h-1zM173 563h1v4h-1zM174 564h1v4h-1zM175 566h1v3h-1zM176 567h1v3h-1zM177 568h1v3h-1zM178 569h1v3h-1zM179 570h1v2h-1zM180 569h1v3h-1zM181 569h1v2h-1zM182 568h1v3h-1zM183 568h1v2h-1zM184 567h1v3h-1zM185 567h1v2h-1zM186 566h1v3h-1zM187 566h1v2h-1zM188 565h1v3h-1zM189 565h12v2h-12zM201 565h1v3h-1zM202 566h1v3h-1zM203 567h1v3h-1zM204 568h1v3h-1zM205 569h1v3h-1zM206 570h1v4h-1zM207 571h1v4h-1zM208 573h1v3h-1zM209 574h1v3h-1zM210 575h1v3h-1zM211 576h1v3h-1zM212 577h1v2h-1zM213 577h1v3h-1zM214 578h3v2h-3zM217 578h1v3h-1zM218 579h2v2h-2zM220 579h1v3h-1zM221 580h2v2h-2zM223 580h1v3h-1zM224 581h3v2h-3zM227 581h1v3h-1zM228 582h3v2h-3zM231 582h1v3h-1zM232 583h1v2h-1zM233 581h1v4h-1zM234 580h1v4h-1zM235 579h1v3h-1zM236 577h1v4h-1zM237 576h1v4h-1zM238 575h1v3h-1zM239 573h1v4h-1zM240 572h1v4h-1zM241 571h1v3h-1zM242 569h1v4h-1zM243 568h1v4h-1zM244 567h1v3h-1zM245 566h1v3h-1zM246 565h1v3h-1zM247 564h1v3h-1zM248 563h1v3h-1zM249 562h1v3h-1zM250 561h1v3h-1zM251 560h1v3h-1zM252 559h1v3h-1zM253 558h1v3h-1zM254 557h1v3h-1zM255 556h1v3h-1zM256 554h1v4h-1zM257 553h1v4h-1zM258 552h1v3h-1zM259 550h1v4h-1zM260 549h1v4h-1zM261 548h1v3h-1zM262 546h1v4h-1zM263 545h1v4h-1zM264 544h1v3h-1zM265 544h11v2h-11zM276 543h1v3h-1zM277 541h1v4h-1zM278 540h1v4h-1zM279 539h1v3h-1zM280 537h1v4h-1zM281 536h1v4h-1zM282 535h1v3h-1zM283 534h1v3h-1zM284 532h1v4h-1zM285 531h1v4h-1zM286 530h1v3h-1zM287 530h2v2h-2zM289 530h1v3h-1zM290 531h5v2h-5zM295 531h1v3h-1zM296 532h14v2h-14zM310 531h1v3h-1zM311 531h5v2h-5zM316 530h1v3h-1zM317 530h2v2h-2zM319 529h1v3h-1zM320 528h1v3h-1zM321 527h1v3h-1zM322 526h1v3h-1zM323 525h1v3h-1zM324 523h1v4h-1zM325 522h1v4h-1zM326 521h1v3h-1zM327 520h1v3h-1zM328 519h1v3h-1zM329 518h1v3h-1zM330 518h2v2h-2zM332 517h1v3h-1zM333 517h4v2h-4zM337 516h1v3h-1zM338 516h3v2h-3zM341 516h1v3h-1zM342 517h1v2h-1zM343 517h1v3h-1zM344 518h1v2h-1zM345 518h1v3h-1zM346 519h1v2h-1zM347 519h1v3h-1zM348 520h1v2h-1zM349 520h1v3h-1zM350 521h2v2h-2zM352 520h1v3h-1zM353 520h1v2h-1zM354 519h1v3h-1zM355 519h1v2h-1zM356 518h1v3h-1zM357 518h1v2h-1zM358 517h1v3h-1zM359 517h1v2h-1zM360 516h1v3h-1zM361 516h6v2h-6zM367 515h1v3h-1zM368 515h5v2h-5zM373 514h1v3h-1zM374 513h1v3h-1zM375 512h1v3h-1zM376 511h1v3h-1zM377 510h1v3h-1zM378 509h1v3h-1zM379 508h1v3h-1zM380 507h1v3h-1zM381 506h1v3h-1zM382 505h1v3h-1zM383 505h5v2h-5zM388 505h1v3h-1zM389 506h6v2h-6zM395 506h1v3h-1zM396 507h2v2h-2zM398 507h1v3h-1zM399 508h1v2h-1zM400 508h1v3h-1zM401 509h2v2h-2zM403 509h1v3h-1zM404 510h6v2h-6zM410 510h1v3h-1zM411 511h5v2h-5zM416 511h1v3h-1zM417 512h2v2h-2zM419 512h1v3h-1zM420 513h1v3h-1zM421 514h2v2h-2zM423 514h1v3h-1zM424 515h1v3h-1zM425 516h1v2h-1zM426 516h1v4h-1zM427 517h1v4h-1zM428 519h1v3h-1zM429 520h1v4h-1zM430 521h1v4h-1zM431 523h1v3h-1zM432 524h1v4h-1zM433 525h1v4h-1zM434 527h1v3h-1zM435 528h1v4h-1zM436 529h1v4h-1zM437 531h1v4h-1zM438 532h1v4h-1zM439 534h1v3h-1zM440 535h1v4h-1zM441 536h1v4h-1zM442 538h1v3h-1zM443 539h1v4h-1zM444 540h1v4h-1zM445 542h1v3h-1zM446 543h1v4h-1zM447 544h1v4h-1zM448 545h1v3h-1zM449 545h1v2h-1zM450 544h1v3h-1zM451 544h1v2h-1zM452 543h1v3h-1zM453 543h1v2h-1zM454 542h1v3h-1zM455 542h1v2h-1zM456 541h1v3h-1zM457 541h1v2h-1zM458 540h1v3h-1zM459 540h1v2h-1zM460 539h1v3h-1zM461 538h1v3h-1zM462 538h2v2h-2zM464 537h1v3h-1zM465 536h1v3h-1zM466 536h2v2h-2zM468 535h2v3h-2zM470 536h1v3h-1zM471 537h1v2h-1zM472 537h1v3h-1zM473 538h1v3h-1zM474 539h1v3h-1zM475 540h1v3h-1zM476 541h1v3h-1zM477 542h1v2h-1zM478 542h1v3h-1zM479 543h1v3h-1zM480 544h1v2h-1zM481 543h1v3h-1zM482 543h1v2h-1zM483 542h1v3h-1zM484 542h1v2h-1zM485 541h1v3h-1zM486 541h1v2h-1zM487 540h1v3h-1zM488 540h1v2h-1zM489 539h1v3h-1zM490 539h6v2h-6zM496 538h1v3h-1zM497 538h5v2h-5zM502 537h1v3h-1zM503 536h1v3h-1zM504 535h1v3h-1zM505 534h1v3h-1zM506 533h1v3h-1zM507 532h1v3h-1zM508 531h1v3h-1zM509 530h1v3h-1zM510 529h1v3h-1zM511 528h1v3h-1zM512 528h11v2h-11zM523 528h1v3h-1zM524 529h1v2h-1zM525 529h1v3h-1zM526 530h1v3h-1zM527 531h1v2h-1zM528 531h1v3h-1zM529 532h1v2h-1zM530 532h1v3h-1zM531 533h1v3h-1zM532 534h1v2h-1zM533 534h1v3h-1zM534 535h5v2h-5zM539 534h1v3h-1zM540 534h10v2h-10zM550 533h1v3h-1zM551 533h5v2h-5zM556 532h1v3h-1zM557 532h2v2h-2zM559 531h1v3h-1zM560 531h1v2h-1zM561 530h1v3h-1zM562 530h2v2h-2zM564 529h1v3h-1zM565 529h2v2h-2zM567 528h1v3h-1zM568 528h2v2h-2zM570 527h1v3h-1zM571 527h1v2h-1zM572 526h1v3h-1zM573 526h2v2h-2zM575 525h1v3h-1zM576 525h1v2h-1zM577 524h1v3h-1zM578 524h2v2h-2zM580 523h1v3h-1zM581 522h1v3h-1zM582 522h2v2h-2zM584 521h1v3h-1zM585 520h1v3h-1zM586 520h1v2h-1zM587 518h1v4h-1zM588 517h1v4h-1zM589 515h1v4h-1zM590 514h1v4h-1zM591 513h1v3h-1zM592 511h1v4h-1zM593 510h1v4h-1zM594 508h1v4h-1zM595 507h1v4h-1zM596 505h1v4h-1zM597 504h1v4h-1zM598 504h1v2h-1zM599 504h1v3h-1zM600 505h3v2h-3zM603 505h1v3h-1zM604 506h3v2h-3zM607 506h1v3h-1zM608 507h2v2h-2zM610 507h1v3h-1zM611 508h3v2h-3zM614 508h1v3h-1zM615 509h3v2h-3zM618 509h1v3h-1zM619 510h6v2h-6zM625 510h1v3h-1zM626 511h4v2h-4zM630 511h1v4h-1zM631 512h1v4h-1zM632 514h1v4h-1zM633 515h1v4h-1zM634 517h1v4h-1zM635 518h1v5h-1zM636 520h1v4h-1zM637 522h1v4h-1zM638 523h1v4h-1zM639 525h1v4h-1zM640 526h1v4h-1zM641 528h1v2h-1zM642 527h1v3h-1zM643 527h2v2h-2zM645 526h1v3h-1zM646 526h1v2h-1zM647 525h1v3h-1zM648 525h2v2h-2zM650 524h1v3h-1zM651 524h1v2h-1zM652 524h1v3h-1zM653 525h1v3h-1zM654 526h1v2h-1zM655 526h1v3h-1zM656 527h1v3h-1zM657 528h1v3h-1zM658 529h1v3h-1zM659 530h1v3h-1zM660 531h1v2h-1zM661 531h1v3h-1zM662 532h2v3h-2zM664 531h1v3h-1zM665 530h1v3h-1zM666 529h1v3h-1zM667 527h1v4h-1zM668 526h1v4h-1zM669 525h1v3h-1zM670 524h1v3h-1zM671 523h1v3h-1zM672 522h1v3h-1zM673 521h1v3h-1zM674 520h1v3h-1zM675 519h1v3h-1zM676 518h1v3h-1zM677 517h1v3h-1zM678 515h1v4h-1zM679 514h1v4h-1zM680 513h1v3h-1zM681 512h1v3h-1zM682 511h1v3h-1zM683 510h1v3h-1zM684 510h12v2h-12zM696 510h1v3h-1zM697 511h1v2h-1zM698 511h1v3h-1zM699 512h1v2h-1zM700 512h1v3h-1zM701 513h1v2h-1zM702 513h1v3h-1zM703 514h1v2h-1zM704 514h1v3h-1zM705 515h10v2h-10zM715 515h1v3h-1zM716 515h1v5h-1zM717 517h1v5h-1zM718 519h1v5h-1zM719 521h1v5h-1zM720 523h1v5h-1zM721 525h1v5h-1zM722 527h1v5h-1zM723 529h1v5h-1zM724 531h1v5h-1zM725 533h1v5h-1zM726 535h1v5h-1zM727 537h1v3h-1zM728 538h10v2h-10zM738 538h1v4h-1zM739 539h1v5h-1zM740 541h1v5h-1zM741 543h1v4h-1zM742 545h1v4h-1zM743 546h1v5h-1zM744 548h1v4h-1zM745 550h1v4h-1zM746 551h1v5h-1zM747 553h1v5h-1zM748 555h1v4h-1zM749 556h1v3h-1zM750 555h1v3h-1zM751 554h1v3h-1zM752 553h1v3h-1zM753 552h1v3h-1zM754 552h1v2h-1zM755 551h1v3h-1zM756 550h1v3h-1zM757 549h1v3h-1zM758 548h2v3h-2zM760 549h1v2h-1zM761 549h1v3h-1zM762 550h1v2h-1zM763 550h1v3h-1zM764 551h1v2h-1zM765 551h1v3h-1zM766 552h1v2h-1zM767 552h1v3h-1zM768 553h1v2h-1zM769 553h1v3h-1zM770 554h1v3h-1zM771 555h1v2h-1zM772 555h1v3h-1zM773 556h1v3h-1zM774 557h1v2h-1zM775 557h1v3h-1zM776 558h1v2h-1zM777 558h1v3h-1zM778 559h1v3h-1zM779 560h1v2h-1zM780 560h2v3h-2zM782 558h1v4h-1zM783 557h1v4h-1zM784 556h1v3h-1zM785 554h1v4h-1zM786 553h1v4h-1zM787 552h1v3h-1zM788 550h1v4h-1zM789 549h1v4h-1zM790 548h1v3h-1zM791 548h16v2h-16zM807 548h1v3h-1zM808 549h5v2h-5zM813 549h1v3h-1zM814 550h1v3h-1zM815 551h1v3h-1zM816 552h1v3h-1zM817 553h1v3h-1zM818 554h1v4h-1zM819 555h1v4h-1zM820 557h1v3h-1zM821 558h1v3h-1zM822 559h1v3h-1zM823 560h1v3h-1zM824 561h1v3h-1zM825 562h1v3h-1zM826 563h1v3h-1zM827 564h1v3h-1zM828 565h1v4h-1zM829 566h1v4h-1zM830 568h1v3h-1zM831 569h1v3h-1zM832 570h1v3h-1zM833 571h1v3h-1zM834 572h1v2h-1zM835 572h1v3h-1zM836 573h1v2h-1zM837 573h1v3h-1zM838 574h1v2h-1zM839 574h1v3h-1zM840 575h1v2h-1zM841 575h1v3h-1zM842 576h1v2h-1zM843 576h1v3h-1zM844 577h6v2h-6zM850 577h1v3h-1zM851 578h5v2h-5zM856 578h1v3h-1zM857 579h1v2h-1zM858 579h1v3h-1zM859 580h1v3h-1zM860 581h1v3h-1zM861 582h1v2h-1zM862 582h1v3h-1zM863 583h1v3h-1zM864 584h1v3h-1zM865 585h1v2h-1zM866 585h2v3h-2zM868 585h1v2h-1zM869 584h1v3h-1zM870 584h1v2h-1zM871 583h1v3h-1zM872 582h1v3h-1zM873 582h1v2h-1zM874 581h1v3h-1zM875 581h1v2h-1zM876 580h1v3h-1zM877 579h1v3h-1zM878 579h1v2h-1zM879 578h1v3h-1zM880 577h1v3h-1zM881 576h1v3h-1zM882 576h1v2h-1zM883 575h1v3h-1zM884 574h1v3h-1zM885 573h1v3h-1zM886 573h1v2h-1zM887 572h1v3h-1zM888 572h1v2h-1zM889 571h1v3h-1zM890 571h2v2h-2zM892 570h1v3h-1zM893 570h1v2h-1zM894 569h1v3h-1zM895 569h2v2h-2zM897 568h1v3h-1zM898 568h6v2h-6zM904 568h1v3h-1zM905 569h16v2h-16zM921 568h1v3h-1zM922 568h2v2h-2zM924 567h1v3h-1zM925 567h1v2h-1zM926 566h1v3h-1zM927 566h2v2h-2zM929 565h1v3h-1zM930 565h1v2h-1zM931 564h1v3h-1zM932 563h1v3h-1zM933 562h1v3h-1zM934 561h1v3h-1zM935 560h1v3h-1zM936 559h1v3h-1zM937 558h1v3h-1zM938 557h1v3h-1zM939 556h1v3h-1zM940 555h1v3h-1zM941 554h1v3h-1zM942 553h1v3h-1zM943 552h1v3h-1zM944 551h1v3h-1zM945 550h1v3h-1zM946 549h1v3h-1zM947 549h1v2h-1zM948 548h1v3h-1zM949 547h1v3h-1zM950 546h1v3h-1zM951 545h1v3h-1zM952 544h1v3h-1zM953 544h1v2h-1zM954 544h1v3h-1zM955 545h1v3h-1zM956 546h2v2h-2zM958 546h1v3h-1zM959 547h1v3h-1zM960 548h2v2h-2zM962 548h1v3h-1zM963 549h13v2h-13zM976 549h1v3h-1zM977 550h5v2h-5zM982 550h1v3h-1zM983 551h2v2h-2zM985 550h1v3h-1zM986 549h1v3h-1zM987 548h1v3h-1zM988 547h1v3h-1zM989 546h1v3h-1zM990 545h1v3h-1zM991 544h1v3h-1zM992 543h1v3h-1zM993 542h1v3h-1zM994 541h1v3h-1zM995 540h1v3h-1zM996 540h10v2h-10zM1006 539h1v3h-1zM1007 538h1v3h-1zM1008 537h1v3h-1zM1009 536h1v3h-1zM1010 535h1v3h-1zM1011 534h1v3h-1zM1012 533h1v3h-1zM1013 532h1v3h-1zM1014 531h1v3h-1zM1015 530h1v3h-1zM1016 529h1v3h-1zM1017 529h5v2h-5zM1022 528h1v3h-1zM1023 528h7v2h-7zM1030 528h1v3h-1zM1031 529h4v2h-4zM1035 529h1v3h-1zM1036 530h3v2h-3zM1039 530h1v3h-1zM1040 531h3v2h-3zM1043 531h1v3h-1zM1044 532h3v2h-3zM1047 532h1v3h-1zM1048 533h12v2h-12zM1060 532h1v3h-1zM1061 532h1v2h-1zM1062 531h1v3h-1zM1063 530h1v3h-1zM1064 530h1v2h-1zM1065 529h1v3h-1zM1066 529h1v2h-1zM1067 528h1v3h-1zM1068 527h1v3h-1zM1069 527h1v2h-1zM1070 526h2v3h-2zM1072 527h1v3h-1zM1073 528h1v2h-1zM1074 528h1v3h-1zM1075 529h1v3h-1zM1076 530h1v3h-1zM1077 531h1v3h-1zM1078 532h1v2h-1zM1079 532h1v3h-1zM1080 533h1v3h-1zM1081 534h1v4h-1zM1082 535h1v4h-1zM1083 537h1v3h-1zM1084 538h1v4h-1zM1085 539h1v4h-1zM1086 541h1v3h-1zM1087 542h1v4h-1zM1088 543h1v4h-1zM1089 545h1v3h-1zM1090 546h1v4h-1zM1091 547h1v4h-1zM1092 549h1v3h-1zM1093 550h1v3h-1zM1094 551h1v3h-1zM1095 552h1v3h-1zM1096 553h1v3h-1zM1097 554h1v3h-1zM1098 555h1v3h-1zM1099 556h1v3h-1zM1100 557h1v3h-1zM1101 558h1v3h-1zM1102 559h2v3h-2zM1104 559h1v2h-1zM1105 558h1v3h-1zM1106 557h1v3h-1zM1107 557h1v2h-1zM1108 556h1v3h-1zM1109 556h1v2h-1zM1110 555h1v3h-1zM1111 554h1v3h-1zM1112 554h1v2h-1zM1113 553h1v3h-1zM1114 552h1v3h-1zM1115 550h1v4h-1zM1116 549h1v4h-1zM1117 548h1v3h-1zM1118 546h1v4h-1zM1119 545h1v4h-1zM1120 544h1v3h-1zM1121 542h1v4h-1zM1122 541h1v4h-1zM1123 540h1v3h-1zM1124 538h1v4h-1zM1125 537h1v4h-1zM1126 535h1v4h-1zM1127 534h1v4h-1zM1128 532h1v4h-1zM1129 530h1v5h-1zM1130 529h1v4h-1zM1131 527h1v4h-1zM1132 526h1v4h-1zM1133 524h1v4h-1zM1134 523h1v4h-1zM1135 523h1v3h-1zM1136 524h1v3h-1zM1137 525h1v3h-1zM1138 526h1v3h-1zM1139 527h1v3h-1zM1140 528h1v3h-1zM1141 529h1v3h-1zM1142 530h1v3h-1zM1143 531h1v3h-1zM1144 532h1v3h-1zM1145 533h1v3h-1zM1146 534h1v3h-1zM1147 535h1v3h-1zM1148 536h1v3h-1zM1149 537h1v3h-1zM1150 538h1v3h-1zM1151 539h1v3h-1zM1152 540h1v3h-1zM1153 541h1v3h-1zM1154 542h1v3h-1zM1155 543h1v3h-1zM1156 544h1v3h-1zM1157 545h2v2h-2zM1159 544h1v3h-1zM1160 544h4v2h-4zM1164 543h1v3h-1zM1165 543h3v2h-3zM1168 543h1v3h-1zM1169 544h3v2h-3zM1172 544h1v3h-1zM1173 545h3v2h-3zM1176 545h1v3h-1zM1177 546h2v2h-2zM1179 545h1v3h-1zM1180 545h2v2h-2zM1182 544h1v3h-1zM1183 544h1v2h-1zM1184 543h1v3h-1zM1185 543h2v2h-2zM1187 542h1v3h-1zM1188 542h1v2h-1zM1189 541h1v3h-1zM1190 540h1v3h-1zM1191 540h1v2h-1zM1192 539h1v3h-1zM1193 538h1v3h-1zM1194 537h1v3h-1zM1195 536h1v3h-1zM1196 535h1v3h-1zM1197 535h1v2h-1zM1198 534h1v3h-1zM1199 533h2v3h-2zM1201 534h1v2h-1zM1202 534h1v3h-1zM1203 535h1v2h-1zM1204 535h1v3h-1zM1205 536h1v3h-1zM1206 537h1v2h-1zM1207 537h1v3h-1zM1208 538h1v2h-1zM1209 538h1v3h-1zM1210 539h5v2h-5zM1215 539h1v3h-1zM1216 540h5v2h-5zM1221 538h1v4h-1zM1222 537h1v4h-1zM1223 536h1v3h-1zM1224 534h1v4h-1zM1225 533h1v4h-1zM1226 532h1v3h-1zM1227 530h1v4h-1zM1228 529h1v4h-1zM1229 528h1v3h-1zM1230 526h1v4h-1zM1231 525h1v4h-1zM1232 524h1v3h-1zM1233 523h1v3h-1zM1234 522h1v3h-1zM1235 521h1v3h-1zM1236 520h1v3h-1zM1237 519h1v3h-1zM1238 518h1v3h-1zM1239 517h1v3h-1zM1240 516h1v3h-1zM1241 515h1v3h-1zM1242 514h1v3h-1zM1243 514h1v2h-1zM1244 514h1v3h-1zM1245 515h1v3h-1zM1246 516h2v2h-2zM1248 516h1v3h-1zM1249 517h1v3h-1zM1250 518h2v2h-2zM1252 518h1v3h-1zM1253 519h1v2h-1zM1254 518h1v3h-1zM1255 518h2v2h-2zM1257 517h1v3h-1zM1258 517h1v2h-1zM1259 516h1v3h-1zM1260 516h2v2h-2zM1262 515h1v3h-1zM1263 515h1v2h-1zM1264 515h1v3h-1zM1265 516h1v2h-1zM1266 516h1v3h-1zM1267 517h1v3h-1zM1268 518h1v2h-1zM1269 518h1v3h-1zM1270 519h1v2h-1zM1271 519h1v3h-1zM1272 520h1v3h-1zM1273 521h1v2h-1zM1274 521h1v3h-1zM1275 522h1v2h-1zM1276 522h1v3h-1zM1277 523h1v3h-1zM1278 524h2v2h-2zM1280 524h1v3h-1zM1281 525h1v3h-1zM1282 526h2v2h-2zM1284 526h1v3h-1zM1285 527h1v2h-1zM1286 527h1v3h-1zM1287 528h1v2h-1zM1288 528h1v3h-1zM1289 529h1v2h-1zM1290 529h1v3h-1zM1291 530h1v2h-1zM1292 530h1v3h-1zM1293 531h1v2h-1zM1294 531h1v3h-1zM1295 532h6v2h-6zM1301 531h1v3h-1zM1302 531h5v2h-5zM1307 531h1v3h-1zM1308 532h1v2h-1zM1309 532h1v3h-1zM1310 533h1v3h-1zM1311 534h1v3h-1zM1312 535h1v2h-1zM1313 535h1v3h-1zM1314 536h1v3h-1zM1315 537h1v3h-1zM1316 538h1v2h-1zM1317 538h2v3h-2zM1319 538h1v2h-1zM1320 537h1v3h-1zM1321 536h1v3h-1zM1322 536h1v2h-1zM1323 535h1v3h-1zM1324 534h1v3h-1zM1325 533h1v3h-1zM1326 533h1v2h-1zM1327 532h1v3h-1zM1328 532h1v2h-1zM1329 532h1v3h-1zM1330 533h2v2h-2zM1332 533h1v3h-1zM1333 534h1v2h-1zM1334 534h1v3h-1zM1335 535h2v2h-2zM1337 535h1v3h-1zM1338 536h17v2h-17zM1355 535h1v3h-1zM1356 535h7v2h-7zM1363 535h1v3h-1zM1364 536h4v2h-4zM1368 536h1v3h-1zM1369 537h2v2h-2zM1371 537h1v3h-1zM1372 538h1v2h-1zM1373 538h1v3h-1zM1374 539h1v3h-1zM1375 540h1v2h-1zM1376 540h1v3h-1zM1377 541h1v2h-1zM1378 541h1v3h-1zM1379 542h1v3h-1zM1380 543h1v2h-1zM1381 543h1v3h-1zM1382 544h2v2h-2zM1384 544h1v3h-1zM1385 545h5v2h-5zM1390 545h1v3h-1zM1391 546h14v2h-14zM0 0h1496v1h-1496zM0 0h1v598h-1zM1495 0h1v598h-1zM0 597h1496v1h-1496z"/>
<g shape-rendering="auto" text-rendering="geometricPrecision">
<text transform="translate(3.05,27.10) scale(1.0056,1)" font-size="11" fill="#000" stroke="#000" stroke-width="0.14">460</text>
<text transform="translate(3.05,75.10) scale(1.0056,1)" font-size="11" fill="#000" stroke="#000" stroke-width="0.14">440</text>
<text transform="translate(3.05,122.10) scale(1.0056,1)" font-size="11" fill="#000" stroke="#000" stroke-width="0.14">420</text>
<text transform="translate(3.05,170.10) scale(1.0056,1)" font-size="11" fill="#000" stroke="#000" stroke-width="0.14">400</text>
<text transform="translate(2.89,217.10) scale(1.0142,1)" font-size="11" fill="#000" stroke="#000" stroke-width="0.14">380</text>
<text transform="translate(2.89,264.10) scale(1.0142,1)" font-size="11" fill="#000" stroke="#000" stroke-width="0.14">360</text>
<text transform="translate(2.89,312.10) scale(1.0142,1)" font-size="11" fill="#000" stroke="#000" stroke-width="0.14">340</text>
<text transform="translate(2.89,359.10) scale(1.0142,1)" font-size="11" fill="#000" stroke="#000" stroke-width="0.14">320</text>
<text transform="translate(73.22,110.10) scale(0.9130,1)" font-size="10" fill="#000" stroke="#000" stroke-width="0.13">427.67</text>
<text transform="translate(2.03,404.90) scale(0.9246,1)" font-size="10" fill="#a3a9b5" stroke="#a3a9b5" stroke-width="0">34,500</text>
<text transform="translate(2.11,444.10) scale(0.9220,1)" font-size="10" fill="#a3a9b5" stroke="#a3a9b5" stroke-width="0">17,250</text>
<clipPath id="xc"><rect x="0" y="490" width="1496" height="14"/></clipPath><g clip-path="url(#xc)">
<text transform="translate(253.74,504.00) scale(1.0107,1)" font-size="11" fill="#000" stroke="#000" stroke-width="0.14">2025</text>
<text transform="translate(489.69,504.00) scale(1.0057,1)" font-size="11" fill="#000" stroke="#000" stroke-width="0.14">Feb</text>
<text transform="translate(704.83,504.00) scale(0.9721,1)" font-size="11" fill="#000" stroke="#000" stroke-width="0.14">Mar</text>
<text transform="translate(940.94,504.00) scale(1.1065,1)" font-size="11" fill="#000" stroke="#000" stroke-width="0.14">Apr</text>
<text transform="translate(1155.92,504.00) scale(0.9723,1)" font-size="11" fill="#000" stroke="#000" stroke-width="0.14">May</text>
<text transform="translate(1369.80,504.00) scale(1.0179,1)" font-size="11" fill="#000" stroke="#000" stroke-width="0.14">Jun</text>
</g>
<text transform="translate(73.85,513.10) scale(1.0021,1)" font-size="9.5" fill="#000" stroke="#000" stroke-width="0.12">RSI 14/14 = 51.2</text>
<text transform="translate(3.94,527.90) scale(1.0326,1)" font-size="9" fill="#000" stroke="#000" stroke-width="0.12">70</text>
<text transform="translate(4.04,552.50) scale(1.0215,1)" font-size="9" fill="#000" stroke="#000" stroke-width="0.12">50</text>
<text transform="translate(4.04,579.80) scale(1.0215,1)" font-size="9" fill="#000" stroke="#000" stroke-width="0.12">30</text>
<text transform="translate(75.98,384.50) scale(1.0141,1)" font-size="18.6" fill="#000" stroke="#000" stroke-width="0.24">Bursagraph.co.il</text>
<text transform="translate(217.33,384.50) scale(1.1333,1)" font-size="18.6" fill="#000" stroke="#000" stroke-width="0.24">|</text>
<text transform="translate(227.96,384.50) scale(1.0603,1)" font-size="18.6" fill="#000" stroke="#000" stroke-width="0.24">394015</text>
<text transform="translate(298.92,384.50) scale(1.2000,1)" font-size="18.6" fill="#000" stroke="#000" stroke-width="0.24">|</text>
<text transform="translate(310.08,384.50) scale(1.0569,1)" font-size="16.4" fill="#000" stroke="#000" stroke-width="0.21">רציו יהש</text>
</g>
</svg>
</body></html>
